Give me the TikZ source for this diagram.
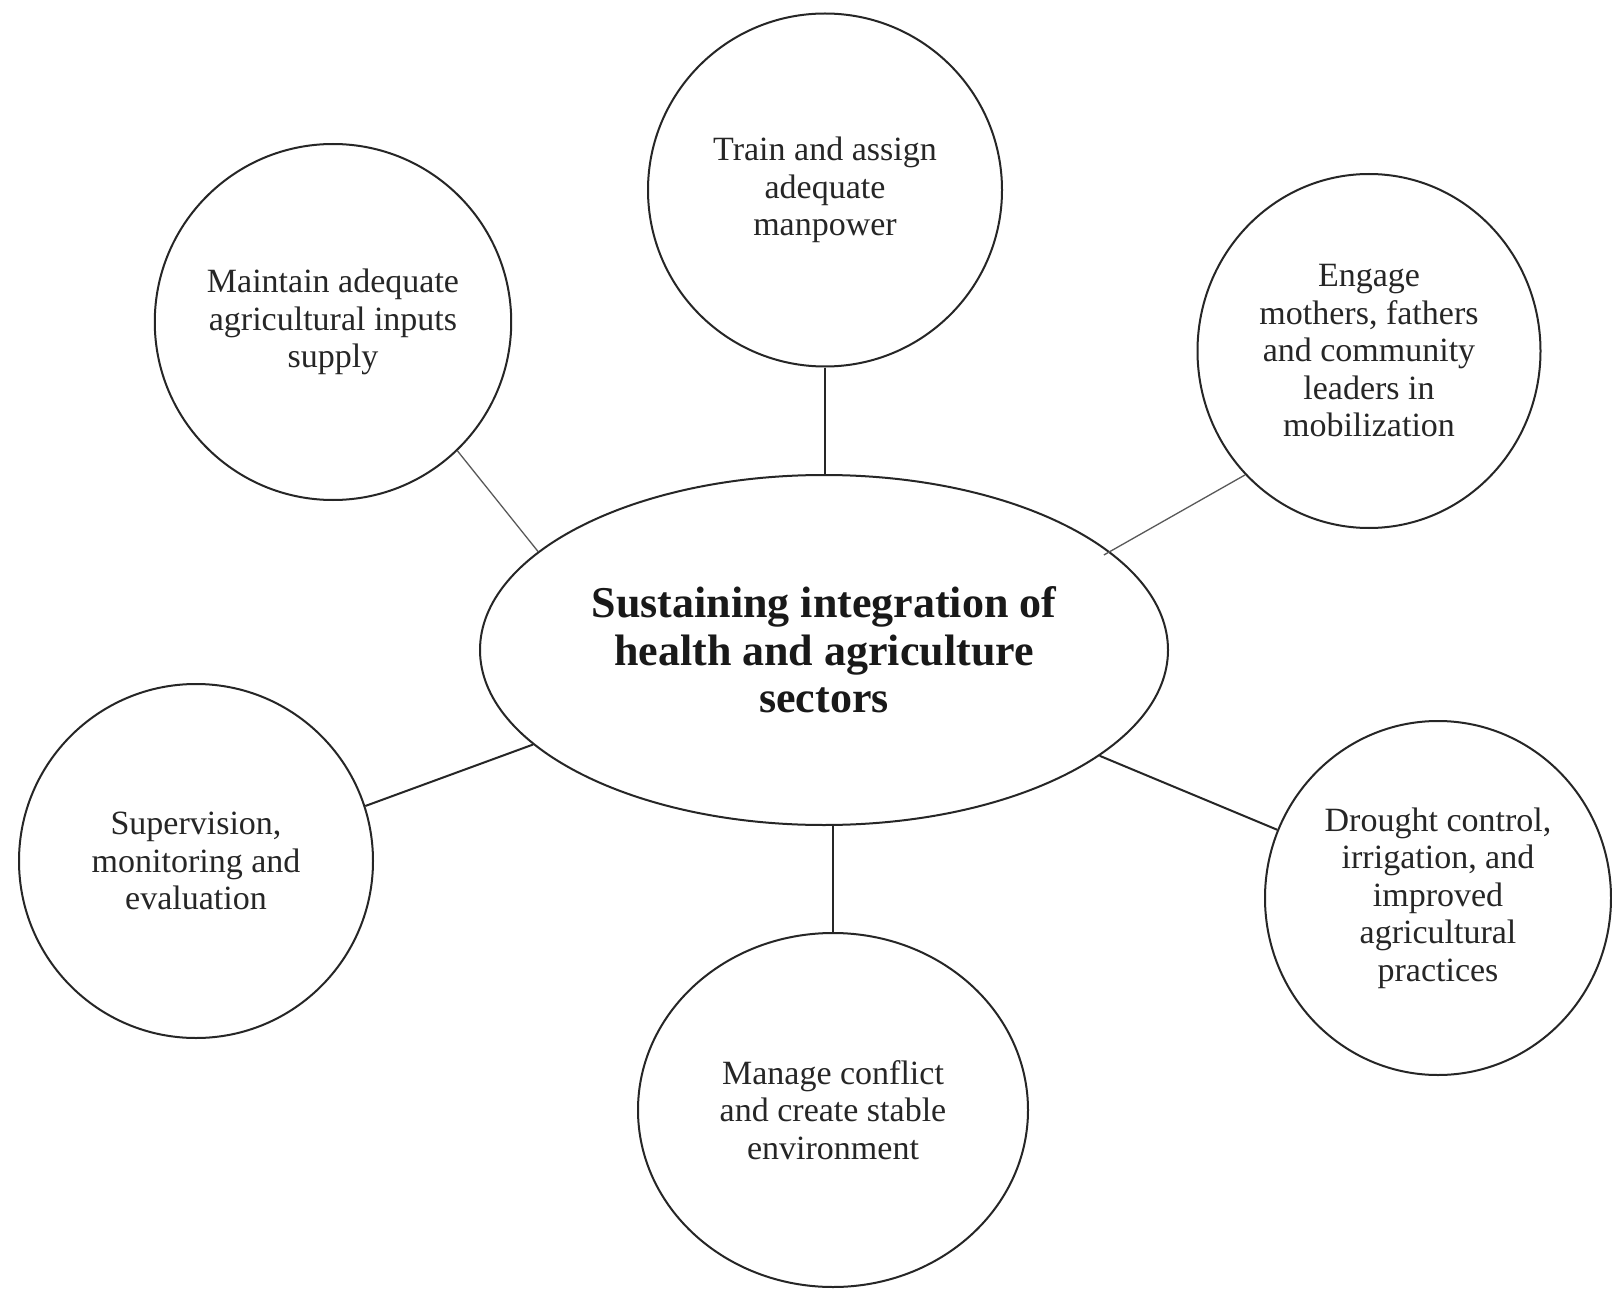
\documentclass[tikz,border=0pt]{standalone}
\usepackage{fontspec}
\setmainfont{Liberation Serif}
\usetikzlibrary{shapes.geometric,calc}
\begin{document}
\begin{tikzpicture}[x=1pt,y=-1pt,
  bubble/.style={draw=black!85,line width=2pt,ellipse,inner sep=0pt,align=center,
    font=\fontsize{34}{37.5}\selectfont,text=black!85},
  hub/.style={draw=black!85,line width=2pt,ellipse,inner sep=0pt,align=center,
    font=\fontsize{44}{47.5}\selectfont\bfseries,text=black!90},
  link/.style={draw=black!85,line width=2pt},
  thinlink/.style={draw=black!65,line width=1.3pt}]
\useasboundingbox (0,0) rectangle (1612,1289);
\fill[white] (0,0) rectangle (1612,1289);
\node[hub,minimum width=688pt,minimum height=350pt] (c) at (824,650)
  {Sustaining integration of\\health and agriculture\\sectors};
\node[bubble,minimum width=354pt,minimum height=353pt] (t) at (825,190)
  {Train and assign\\adequate\\manpower};
\node[bubble,minimum width=342pt,minimum height=356pt] (tl) at (333,322)
  {Maintain adequate\\agricultural inputs\\supply};
\node[bubble,minimum width=343pt,minimum height=354pt] (r) at (1369,351)
  {Engage\\mothers, fathers\\and community\\leaders in\\mobilization};
\node[bubble,minimum width=354pt,minimum height=354pt] (l) at (196,861)
  {Supervision,\\monitoring and\\evaluation};
\node[bubble,minimum width=346pt,minimum height=354pt] (br) at (1438,898)
  {Drought control,\\irrigation, and\\improved\\agricultural\\practices};
\node[bubble,minimum width=390pt,minimum height=354pt] (b) at (833,1110)
  {Manage conflict\\and create stable\\environment};
\draw[link] (t.south) -- (t.south |- c.north);
\draw[link] (b.north) -- (b.north |- c.south);
\draw[thinlink] (tl.-46.6) -- (c.161.3);
\draw[thinlink,shorten >=-7pt] (r.225.9) -- (c.19.5);
\draw[link] (l.18.6) -- (c.198.6);
\draw[link] (c.-21.5) -- (br.157.3);
\end{tikzpicture}
\end{document}
